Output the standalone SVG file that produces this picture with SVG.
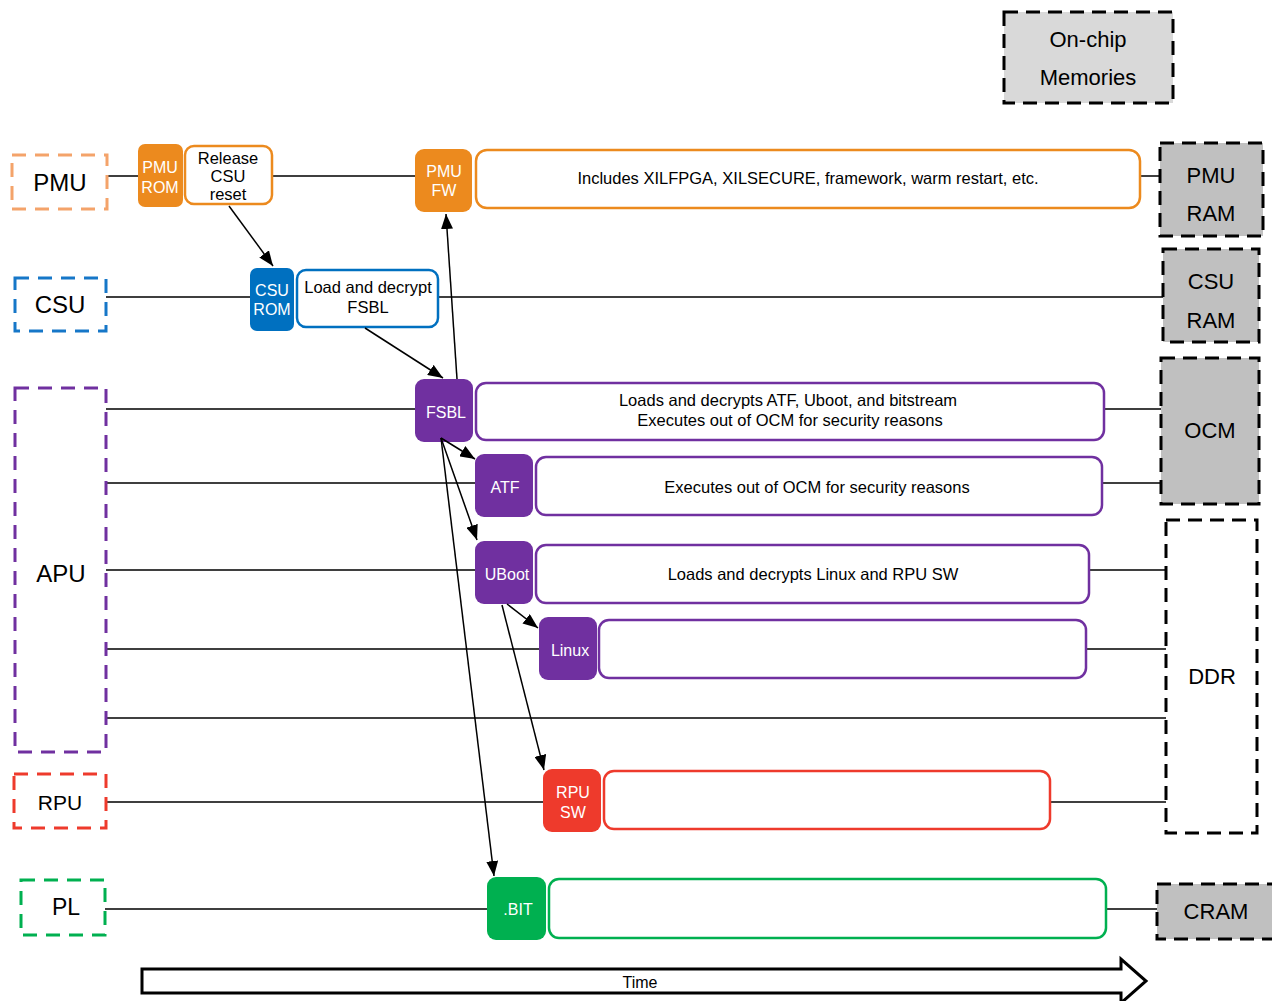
<svg xmlns="http://www.w3.org/2000/svg" width="1272" height="1001" viewBox="0 0 1272 1001">
<style>
text{font-family:"Liberation Sans",Arial,sans-serif;text-anchor:middle;dominant-baseline:central}
.lane{fill:#fff;stroke-width:3;stroke-dasharray:14 9}
.lt{font-size:24px;fill:#000}
.wt{fill:#fff;font-size:16px}
.desc{fill:#fff;stroke-width:2.5}
.dt{fill:#000;font-size:16.5px}
.mem{fill:#c0c0c0;stroke:#000;stroke-width:3;stroke-dasharray:14 8}
.mt{fill:#000;font-size:22px}
.ln{stroke:#000;stroke-width:1.5;fill:none}
.ar{stroke:#000;stroke-width:1.5;fill:none;marker-end:url(#ah)}
</style>
<defs>
<marker id="ah" markerUnits="userSpaceOnUse" markerWidth="16" markerHeight="12" refX="15" refY="6" orient="auto">
<path d="M0,0 L15,6 L0,12 z" fill="#000"/>
</marker>
</defs>
<rect width="1272" height="1001" fill="#fff"/>

<g id="lines">
<path class="ln" d="M107,176H140 M272,176H417 M1140,176H1162"/>
<path class="ln" d="M106,297H252 M438,297H1165"/>
<path class="ln" d="M106,409H417 M1104,409H1162"/>
<path class="ln" d="M106,483H477 M1102,483H1162"/>
<path class="ln" d="M106,570H477 M1089,570H1167"/>
<path class="ln" d="M106,649H541 M1086,649H1167"/>
<path class="ln" d="M106,718H1167"/>
<path class="ln" d="M106,802H545 M1050,802H1167"/>
<path class="ln" d="M105,909H489 M1106,909H1158"/>
</g>

<g id="lane-pmu"><rect class="lane" x="12" y="155" width="95" height="54" stroke="#F4A36A"/><text class="lt" x="60" y="182">PMU</text></g>
<g id="lane-csu"><rect class="lane" x="15" y="278" width="91" height="53" stroke="#1677C8"/><text class="lt" x="60" y="304">CSU</text></g>
<g id="lane-apu"><rect class="lane" x="15" y="388" width="91" height="364" stroke="#7030A0"/><text class="lt" x="61" y="573">APU</text></g>
<g id="lane-rpu"><rect class="lane" x="14" y="774" width="92" height="54" stroke="#EE3A2C"/><text class="lt" x="60" y="802" style="font-size:21px">RPU</text></g>
<g id="lane-pl"><rect class="lane" x="21" y="880" width="84" height="55" stroke="#00B050"/><text class="lt" x="66" y="907" style="font-size:23px">PL</text></g>

<g id="pmu-rom"><rect x="138" y="144" width="45" height="63" rx="7" fill="#EC8A1E"/><text class="wt" x="160" y="167">PMU</text><text class="wt" x="160" y="187">ROM</text></g>
<g id="release-csu"><rect class="desc" x="185" y="146" width="87" height="58" rx="9" stroke="#EC8A1E"/><text class="dt" x="228" y="158">Release</text><text class="dt" x="228" y="176">CSU</text><text class="dt" x="228" y="194">reset</text></g>
<g id="pmu-fw"><rect x="415" y="149" width="57" height="63" rx="9" fill="#EC8A1E"/><text class="wt" x="444" y="171">PMU</text><text class="wt" x="444" y="190">FW</text></g>
<g id="pmu-fw-desc"><rect class="desc" x="476" y="150" width="664" height="58" rx="11" stroke="#EC8A1E"/><text class="dt" x="808" y="178">Includes XILFPGA, XILSECURE, framework, warm restart, etc.</text></g>

<g id="csu-rom"><rect x="250" y="268" width="44" height="63" rx="7" fill="#0070C0"/><text class="wt" x="272" y="290">CSU</text><text class="wt" x="272" y="309">ROM</text></g>
<g id="load-fsbl"><rect class="desc" x="297" y="270" width="141" height="57" rx="9" stroke="#0070C0"/><text class="dt" x="368" y="287">Load and decrypt</text><text class="dt" x="368" y="307">FSBL</text></g>

<g id="fsbl"><rect x="415" y="379" width="58" height="63" rx="9" fill="#7030A0"/><text class="wt" x="446" y="412">FSBL</text></g>
<g id="fsbl-desc"><rect class="desc" x="476" y="383" width="628" height="57" rx="10" stroke="#7030A0"/><text class="dt" x="788" y="400">Loads and decrypts ATF, Uboot, and bitstream</text><text class="dt" x="790" y="420">Executes out of OCM for security reasons</text></g>
<g id="atf"><rect x="475" y="454" width="58" height="63" rx="9" fill="#7030A0"/><text class="wt" x="505" y="487">ATF</text></g>
<g id="atf-desc"><rect class="desc" x="536" y="457" width="566" height="58" rx="10" stroke="#7030A0"/><text class="dt" x="817" y="487">Executes out of OCM for security reasons</text></g>
<g id="uboot"><rect x="475" y="541" width="58" height="63" rx="9" fill="#7030A0"/><text class="wt" x="507" y="574">UBoot</text></g>
<g id="uboot-desc"><rect class="desc" x="536" y="545" width="553" height="58" rx="10" stroke="#7030A0"/><text class="dt" x="813" y="574">Loads and decrypts Linux and RPU SW</text></g>
<g id="linux"><rect x="539" y="617" width="58" height="63" rx="9" fill="#7030A0"/><text class="wt" x="570" y="650">Linux</text></g>
<g id="linux-desc"><rect class="desc" x="599" y="620" width="487" height="58" rx="10" stroke="#7030A0"/></g>

<g id="rpu-sw"><rect x="543" y="769" width="58" height="63" rx="9" fill="#EE3A2C"/><text class="wt" x="573" y="792">RPU</text><text class="wt" x="573" y="812">SW</text></g>
<g id="rpu-desc"><rect class="desc" x="604" y="771" width="446" height="58" rx="10" stroke="#EE3A2C"/></g>

<g id="bit"><rect x="487" y="877" width="59" height="63" rx="9" fill="#00B050"/><text class="wt" x="518" y="909">.BIT</text></g>
<g id="bit-desc"><rect class="desc" x="549" y="879" width="557" height="59" rx="10" stroke="#00B050"/></g>

<g id="on-chip"><rect class="mem" x="1004" y="12" width="169" height="91" style="fill:#d9d9d9"/><text class="mt" x="1088" y="39">On-chip</text><text class="mt" x="1088" y="77">Memories</text></g>
<g id="pmu-ram"><rect class="mem" x="1160" y="143" width="103" height="93"/><text class="mt" x="1211" y="175">PMU</text><text class="mt" x="1211" y="213">RAM</text></g>
<g id="csu-ram"><rect class="mem" x="1163" y="249" width="96" height="93"/><text class="mt" x="1211" y="281">CSU</text><text class="mt" x="1211" y="320">RAM</text></g>
<g id="ocm"><rect class="mem" x="1161" y="358" width="98" height="146"/><text class="mt" x="1210" y="430">OCM</text></g>
<g id="ddr"><rect class="mem" x="1166" y="520" width="91" height="313" style="fill:#fff"/><text class="mt" x="1212" y="676">DDR</text></g>
<g id="cram"><rect class="mem" x="1157" y="884" width="120" height="55"/><text class="mt" x="1216" y="911">CRAM</text></g>

<g id="connectors">
<line class="ar" x1="229" y1="206" x2="273" y2="266"/>
<line class="ar" x1="365" y1="328" x2="443" y2="378"/>
<line class="ar" x1="457" y1="379" x2="446" y2="214"/>
<line class="ar" x1="441" y1="438" x2="475" y2="459"/>
<line class="ar" x1="441" y1="438" x2="477" y2="540"/>
<line class="ar" x1="441" y1="438" x2="494" y2="876"/>
<line class="ar" x1="507" y1="604" x2="538" y2="628"/>
<line class="ar" x1="502" y1="605" x2="544" y2="770"/>
</g>

<g id="time">
<polygon points="142,969 1121,969 1121,959 1146,981 1121,1003 1121,993 142,993" fill="#fff" stroke="#000" stroke-width="3"/>
<text x="640" y="982" style="font-size:16px">Time</text>
</g>
</svg>
